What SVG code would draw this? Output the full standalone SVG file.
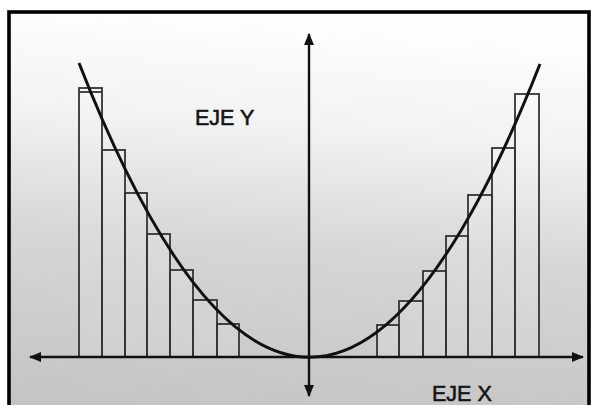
<svg xmlns="http://www.w3.org/2000/svg" width="593" height="405" viewBox="0 0 593 405">
<defs>
<linearGradient id="bg" x1="0.1" y1="0" x2="0" y2="1">
<stop offset="0" stop-color="#fdfdfd"/>
<stop offset="0.25" stop-color="#f2f2f2"/>
<stop offset="0.55" stop-color="#d6d6d6"/>
<stop offset="1" stop-color="#c3c3c3"/>
</linearGradient>
<marker id="arr" viewBox="0 0 12 10" refX="11" refY="5" markerWidth="12" markerHeight="10" markerUnits="userSpaceOnUse" orient="auto">
<path d="M0,0 L12,5 L0,10 Z" fill="#111"/>
</marker>
<style>
.bar{fill:#ffffff;fill-opacity:0.12;stroke:#333;stroke-width:1.8}
.axis{stroke:#111;stroke-width:2.4;fill:none}
.lbl{font-family:"Liberation Sans",Arial,sans-serif;font-size:21.5px;fill:#151515;stroke:#151515;stroke-width:0.6}
</style>
</defs>
<rect x="0" y="0" width="593" height="405" fill="#ffffff"/>
<rect id="frame" x="9" y="12" width="580" height="400" fill="url(#bg)" stroke="#000" stroke-width="3.6"/>
<g id="bars-left">
<rect class="bar" x="79" y="88" width="23" height="269"/>
<line x1="79" y1="92" x2="102" y2="92" stroke="#333" stroke-width="1.8"/>
<rect class="bar" x="102" y="150" width="23" height="207"/>
<rect class="bar" x="125" y="193" width="22" height="164"/>
<rect class="bar" x="147" y="234" width="23" height="123"/>
<rect class="bar" x="170" y="270" width="23" height="87"/>
<rect class="bar" x="193" y="300" width="24" height="57"/>
<rect class="bar" x="217" y="324" width="22" height="33"/>
</g>
<g id="bars-right">
<rect class="bar" x="377" y="325" width="22" height="32"/>
<rect class="bar" x="399" y="301" width="24" height="56"/>
<rect class="bar" x="423" y="271" width="23" height="86"/>
<rect class="bar" x="446" y="236" width="22" height="121"/>
<rect class="bar" x="468" y="195" width="24" height="162"/>
<rect class="bar" x="492" y="148" width="23" height="209"/>
<rect class="bar" x="515" y="94" width="24" height="263"/>
</g>
<g id="curve">
<path d="M79,63 Q309,651 540,64" fill="none" stroke="#111" stroke-width="3"/>
</g>
<g id="connectors">
<line class="axis" x1="300" y1="357" x2="30" y2="357" marker-end="url(#arr)"/>
<line class="axis" x1="300" y1="357" x2="583" y2="357" marker-end="url(#arr)"/>
<line class="axis" x1="309" y1="200" x2="309" y2="34" marker-end="url(#arr)"/>
<line class="axis" x1="309" y1="200" x2="309" y2="396" marker-end="url(#arr)"/>
</g>
<g id="label-y"><text class="lbl" x="195" y="125">EJE Y</text></g>
<g id="label-x"><text class="lbl" x="432" y="401">EJE X</text></g>
</svg>
